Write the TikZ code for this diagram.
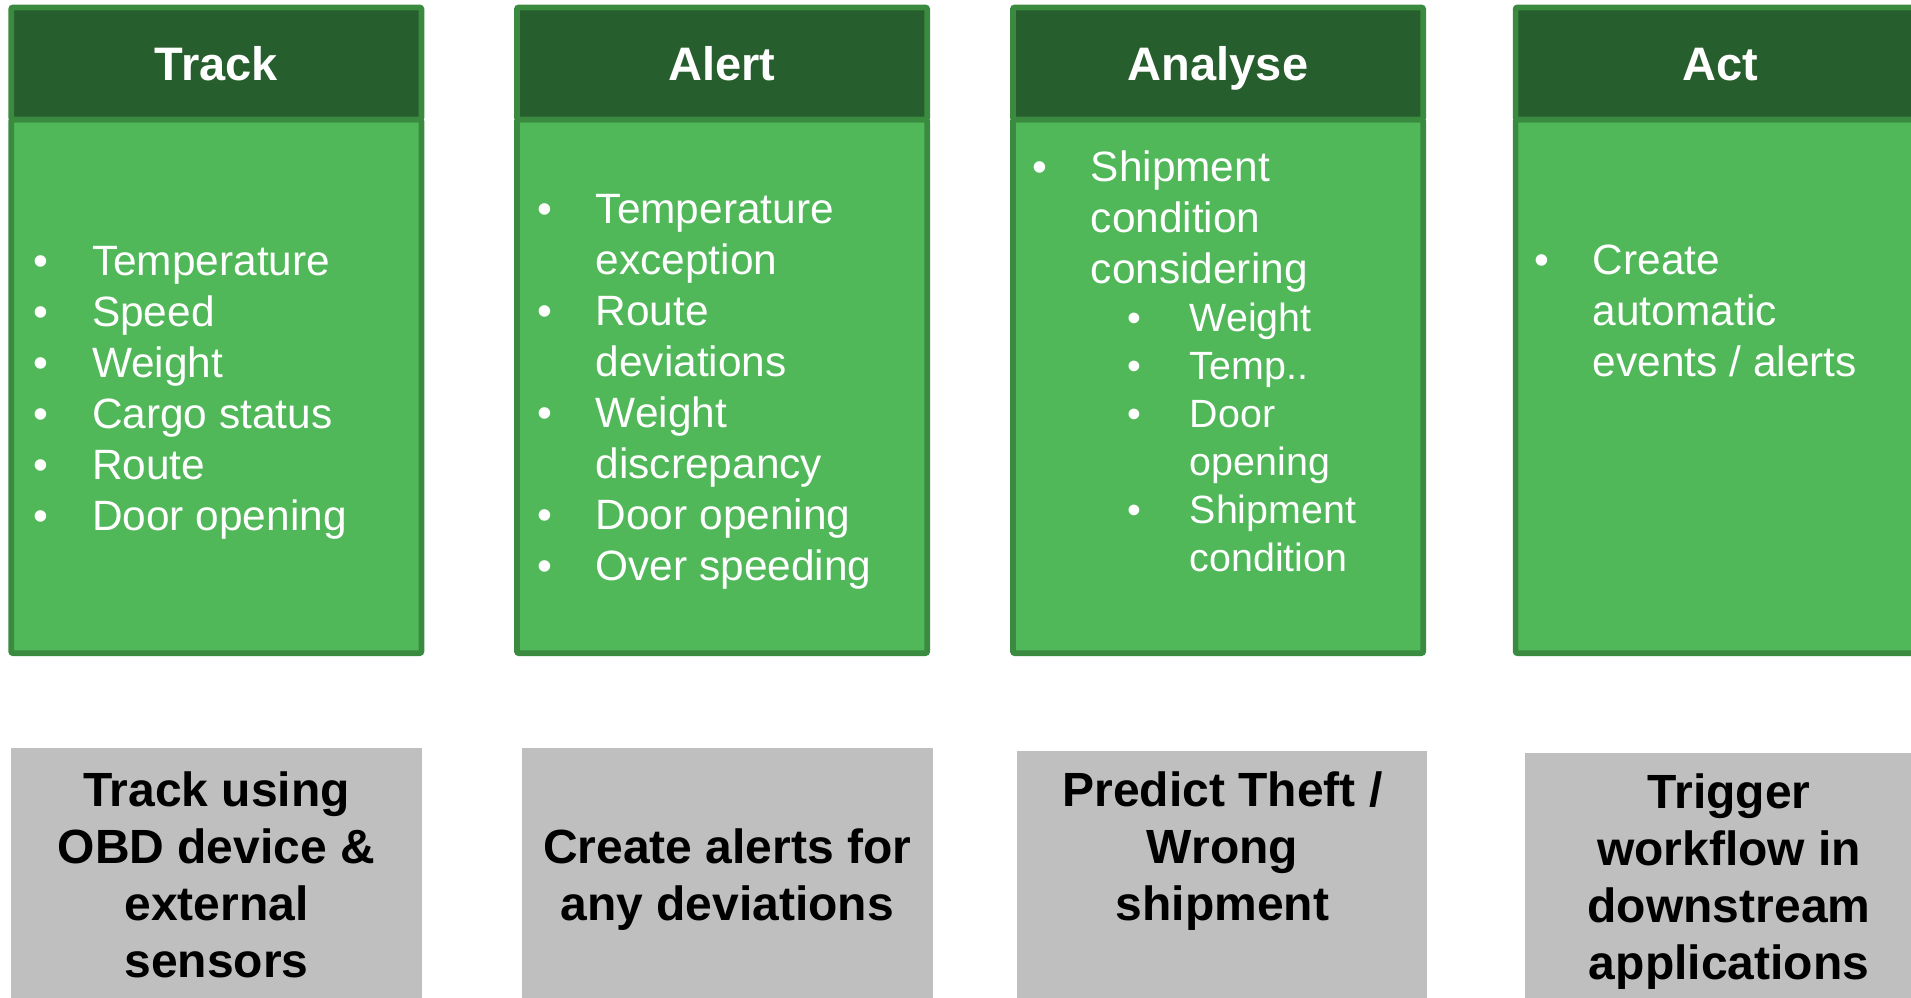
\documentclass[tikz,border=0pt]{standalone}
\usepackage{fontspec}
\setmainfont{Liberation Sans}
\definecolor{headgreen}{RGB}{39,94,45}
\definecolor{bodygreen}{RGB}{80,184,88}
\definecolor{edgegreen}{RGB}{58,139,64}
\definecolor{cardgray}{RGB}{191,191,191}
\tikzset{
  panel/.style = {draw=edgegreen, line width=2.85pt, rounded corners=1pt,
    minimum width=205.15pt, inner sep=0pt, outer sep=0pt, anchor=north west},
  headbox/.style = {panel, fill=headgreen, minimum height=56.05pt, text=white,
    font=\bfseries\fontsize{23.5}{28}\selectfont, text height=17pt, text depth=0pt},
  bodybox/.style = {panel, fill=bodygreen, minimum height=266.85pt},
  cardbox/.style = {fill=cardgray, minimum width=205.35pt, minimum height=140pt,
    inner sep=0pt, outer sep=0pt, anchor=north west},
  itemtext/.style = {text=white, font=\fontsize{21.2}{25.5}\selectfont,
    inner sep=0pt, anchor=base west},
  cardtext/.style = {font=\bfseries\fontsize{24}{28.5}\selectfont,
    inner sep=0pt, anchor=base}
}
\newcommand{\bitem}[1]{\hangindent=29.2pt\makebox[29.2pt][l]{\textbullet}#1\par}
\newcommand{\sitem}[1]{\hangindent=78.7pt\leavevmode\hspace*{47.75pt}%
  \makebox[30.95pt][l]{\textbullet}#1\par}
\newcommand{\itemlist}[1]{\parbox[t]{250pt}{#1}}
\newcommand{\cardlines}[1]{\parbox[t]{200pt}{\centering #1}}

\begin{document}
\begin{tikzpicture}[x=0.5pt,y=-0.5pt]
  \useasboundingbox (0,0) rectangle (1911,997);
  \clip (0,0) rectangle (1911,997);

  % green columns
  \node[bodybox] (trackbody) at (11.15,119.5) {};
  \node[headbox] (trackhead) at (11.15,7.4) {Track};
  \node[bodybox] (alertbody) at (516.9,119.5) {};
  \node[headbox] (alerthead) at (516.9,7.4) {Alert};
  \node[bodybox] (analysebody) at (1012.9,119.5) {};
  \node[headbox] (analysehead) at (1012.9,7.4) {Analyse};
  \node[bodybox] (actbody) at (1515.6,119.5) {};
  \node[headbox] (acthead) at (1515.6,7.4) {Act};

  % bullet lists
  \node[itemtext] (tracklist) at (33.3,275) {\itemlist{%
    \bitem{Temperature}
    \bitem{Speed}
    \bitem{Weight}
    \bitem{Cargo status}
    \bitem{Route}
    \bitem{Door opening}}};
  \node[itemtext] (alertlist) at (537,223.5) {\itemlist{%
    \bitem{Temperature\\exception}
    \bitem{Route\\deviations}
    \bitem{Weight\\discrepancy}
    \bitem{Door opening}
    \bitem{Over speeding}}};
  \node[itemtext] (analyselist) at (1032,181.7) {\itemlist{%
    \bitem{Shipment\\condition\\considering}
    \fontsize{19.7}{24}\selectfont
    \sitem{Weight}
    \sitem{Temp..}
    \sitem{Door\\opening}
    \sitem{Shipment\\condition}}};
  \node[itemtext] (actlist) at (1534,274) {\itemlist{%
    \bitem{Create\\automatic\\events / alerts}}};

  % gray cards
  \node[cardbox] (trackcard) at (11,748) {};
  \node[cardbox] (alertcard) at (522,748) {};
  \node[cardbox] (analysecard) at (1016.5,751) {};
  \node[cardbox] (actcard) at (1524.7,753) {};
  \node[cardtext] (tracknote) at (216.4,806)
    {\cardlines{Track using\\OBD device \&\\external\\sensors}};
  \node[cardtext] (alertnote) at (727.3,863)
    {\cardlines{Create alerts for\\any deviations}};
  \node[cardtext] (analysenote) at (1222.5,806.7)
    {\cardlines{Predict Theft /\\Wrong\\shipment}};
  \node[cardtext] (actnote) at (1729,808)
    {\cardlines{Trigger\\workflow in\\downstream\\applications}};
\end{tikzpicture}
\end{document}
